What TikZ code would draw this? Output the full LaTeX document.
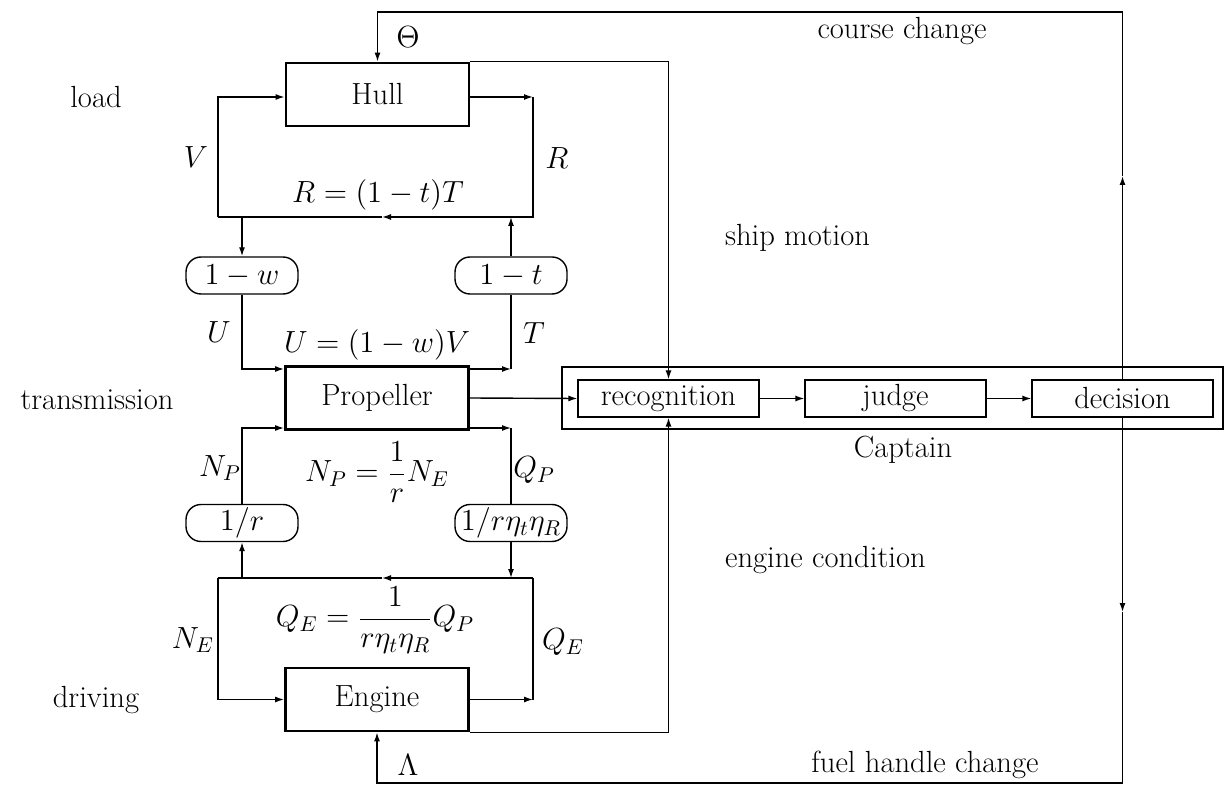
\RequirePackage{fix-cm}
\documentclass[tikz,border=0pt]{standalone}
\usetikzlibrary{arrows.meta}
\begin{document}
\begin{tikzpicture}[x=0.5pt,y=-0.5pt,
  every node/.style={font=\fontsize{15.3}{18}\selectfont},
  bigbox/.style={draw,line width=1.4pt,minimum width=91.5pt,minimum height=31.5pt,inner sep=0pt},
  rbox/.style={draw,line width=0.7pt,rounded corners=7.5pt,minimum width=56pt,minimum height=18.5pt,inner sep=0pt},
  cbox/.style={draw,line width=0.6pt,minimum width=90.5pt,minimum height=18.5pt,inner sep=0pt},
  outerbox/.style={draw,line width=1.2pt,minimum width=330.5pt,minimum height=31pt,inner sep=0pt},
  conn/.style={line width=0.7pt},
  arr/.style={conn,-{Latex[length=4.5pt,width=3pt]}},
]
\useasboundingbox (0,0) rectangle (1229,785);
% main blocks
\node[bigbox] (hull) at (377.5,94.5) {Hull};
\node[bigbox] (prop) at (377,398) {Propeller};
\node[bigbox] (eng) at (377,699.5) {Engine};
\node[rbox] (w) at (242,275.5) {$1-w$};
\node[rbox] (t) at (511,275.5) {$1-t$};
\node[rbox] (r) at (242,523) {$1/r$};
\node[rbox] (rq) at (511,523) {$1/r\eta_t\eta_R$};
% captain
\node[outerbox] (capt) at (892.5,398) {};
\node[cbox] (rec) at (668.5,398.5) {recognition};
\node[cbox] (jud) at (895.5,398.5) {judge};
\node[cbox] (dec) at (1122.5,398.5) {decision};
\node (captl) at (903,450) {Captain};
% coordinates
\coordinate (vl) at (218,217);
\coordinate (vt) at (218,97);
\coordinate (rt) at (533,97);
\coordinate (rb) at (533,217);
\coordinate (m1) at (382,217);
\coordinate (uc) at (242,369);
\coordinate (tc) at (511,369);
\coordinate (npc) at (242,428);
\coordinate (ll) at (218,578);
\coordinate (lr) at (533,578);
\coordinate (m2) at (382,578);
\coordinate (tr) at (1122.5,12);
\coordinate (up) at (1122.5,176);
\coordinate (br) at (1122.5,783);
\coordinate (dn) at (1122.5,612);
% upper loop
\draw[arr] (vl) -- (vt) -- (hull.west |- vt);
\draw[arr] (hull.east |- rt) -- (rt);
\draw[arr] (rt) -- (rb) -- (m1);
\draw[conn] (m1) -- (vl);
\draw[arr] (w.north |- vl) -- (w.north);
\draw[arr] (t.north) -- (t.north |- rb);
% middle
\draw[arr] (w.south) -- (w.south |- uc) -- (prop.west |- uc);
\draw[arr] (prop.east |- tc) -- (tc);
\draw[conn] (tc) -- (t.south);
\draw[arr] (r.north) -- (r.north |- npc) -- (prop.west |- npc);
\draw[arr] (prop.east |- npc) -- (rq.north |- npc);
\draw[conn] (rq.north |- npc) -- (rq.north);
\draw[arr] (prop.east) -- (rec.west);
% lower loop
\draw[arr] (r.south |- ll) -- (r.south);
\draw[arr] (rq.south) -- (rq.south |- ll);
\draw[arr] (lr) -- (m2);
\draw[conn] (m2) -- (ll);
\draw[arr] (ll) -- (ll |- eng.west) -- (eng.west);
\draw[arr] (eng.east) -- (lr |- eng.east);
\draw[conn] (lr |- eng.east) -- (lr);
% to captain
\draw[arr] (hull.north east) -- (rec.north |- hull.north east) -- (rec.north);
\draw[arr] (eng.south east) -- (rec.south |- eng.south east) -- (rec.south);
\draw[arr] (rec.east) -- (jud.west);
\draw[arr] (jud.east) -- (dec.west);
% feedback
\draw[arr] (dec.north) -- (up);
\draw[arr] (up) -- (tr) -- (hull.north |- tr) -- (hull.north);
\draw[arr] (dec.south) -- (dn);
\draw[arr] (dn) -- (br) -- (eng.south |- br) -- (eng.south);
% labels
\node (lload) at (96,97) {load};
\node (ltrans) at (97,400) {transmission};
\node (ldriv) at (96,700) {driving};
\node (lV) at (196,157) {$V$};
\node (lR) at (557,158) {$R$};
\node (lRf) at (378,195) {$R=(1-t)T$};
\node (lU) at (219,332) {$U$};
\node (lT) at (534,333) {$T$};
\node (lUf) at (377,345) {$U=(1-w)V$};
\node (lNP) at (220,468) {$N_P$};
\node (lQP) at (534,470) {$Q_P$};
\node (lNPf) at (377,472) {$\displaystyle N_P=\frac{1}{r}N_E$};
\node (lNE) at (193,640) {$N_E$};
\node (lQE) at (563,642) {$Q_E$};
\node (lQEf) at (375,620) {$\displaystyle Q_E=\frac{1}{r\eta_t\eta_R}Q_P$};
\node (lTh) at (408,37) {$\Theta$};
\node (lLa) at (408,765) {$\Lambda$};
\node (lcc) at (902,31) {course change};
\node[anchor=west] (lsm) at (718,238) {ship motion};
\node[anchor=west] (lec) at (718,560) {engine condition};
\node (lfh) at (925,765) {fuel handle change};
\end{tikzpicture}
\end{document}
